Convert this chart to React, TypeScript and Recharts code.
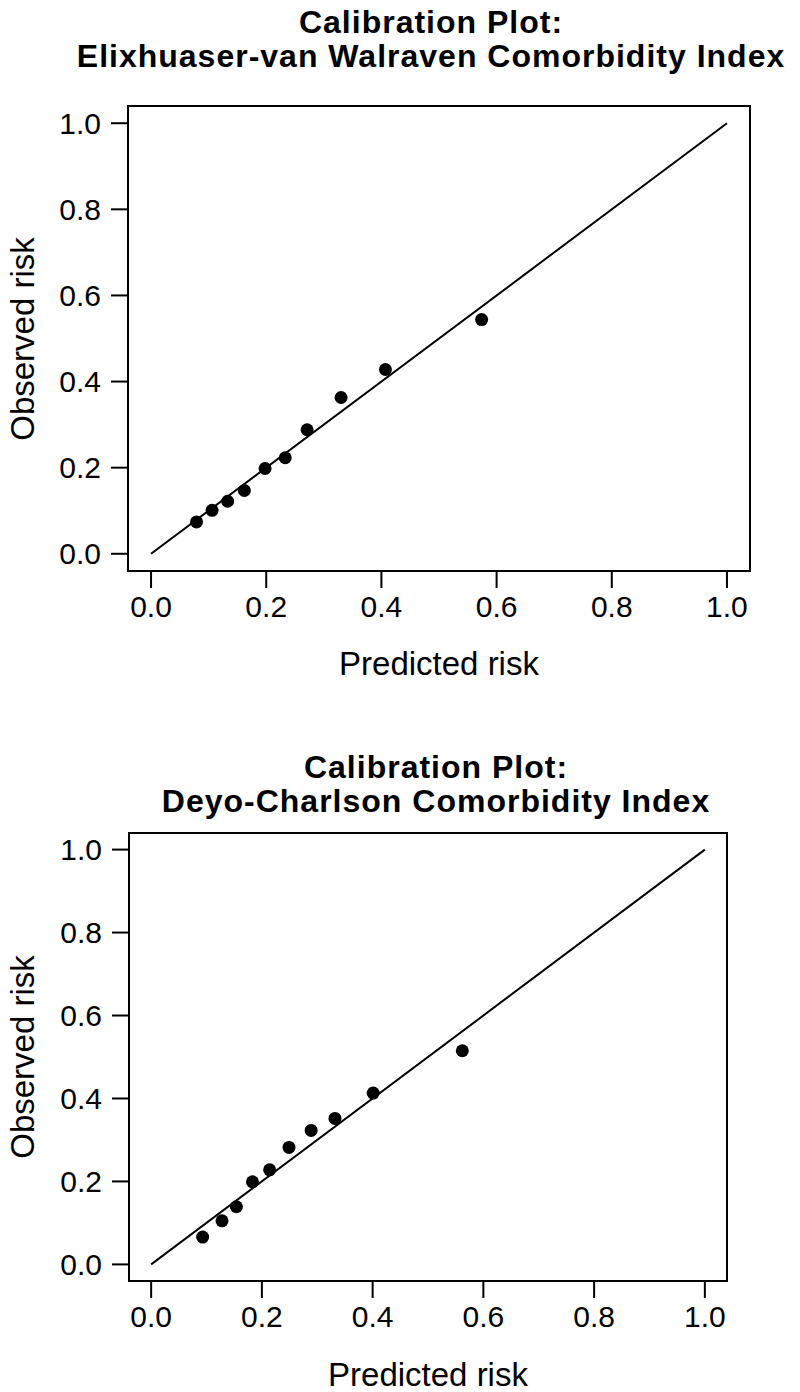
import { ReferenceArea, ReferenceLine, Scatter, ScatterChart, XAxis, YAxis } from 'recharts'

const axisTicks = [0, 0.2, 0.4, 0.6, 0.8, 1.0]

const elixPredicted = [0.079, 0.106, 0.133, 0.162, 0.198, 0.233, 0.271, 0.33, 0.407, 0.574]
const elixObserved = [0.074, 0.101, 0.122, 0.147, 0.198, 0.223, 0.288, 0.363, 0.428, 0.544]

const deyoPredicted = [0.093, 0.128, 0.154, 0.183, 0.214, 0.249, 0.289, 0.332, 0.401, 0.562]
const deyoObserved = [0.066, 0.105, 0.139, 0.199, 0.228, 0.282, 0.323, 0.352, 0.413, 0.515]

const font = "'Liberation Sans', Arial, Helvetica, sans-serif"

const toPoints = (xs: number[], ys: number[]) => xs.map((x, i) => ({ x, y: ys[i] }))

const Dot = (props: any) => <circle cx={props.cx} cy={props.cy} r={6.5} fill='#000' />

const text = (left: number, top: number, size: number, bold: boolean, rotate = false): React.CSSProperties => ({
  position: 'absolute',
  left,
  top,
  transform: `translate(-50%, -50%)${rotate ? ' rotate(-90deg)' : ''}`,
  whiteSpace: 'nowrap',
  lineHeight: 1,
  fontFamily: font,
  fontSize: size,
  fontWeight: bold ? 'bold' : 'normal',
  letterSpacing: bold ? 1 : 0,
  color: '#000',
})

type PanelProps = {
  top: number
  height: number
  plot: { left: number; right: number; top: number; bottom: number }
  titleX: number
  titleY: [number, number]
  labelY: number
  title: string
  xs: number[]
  ys: number[]
}

function Panel({ top, height, plot, titleX, titleY, labelY, title, xs, ys }: PanelProps) {
  const cx = (plot.left + plot.right) / 2
  const cy = (plot.top + plot.bottom) / 2
  const tickStyle = { fill: '#000', fontSize: 30, fontFamily: font }
  return (
    <div style={{ position: 'absolute', left: 0, top, width: 800, height }}>
      <ScatterChart
        width={800}
        height={height}
        margin={{ top: plot.top, left: 0, right: 800 - plot.right, bottom: 0 }}
      >
        <XAxis
          type='number'
          dataKey='x'
          domain={[-0.04, 1.04]}
          ticks={axisTicks}
          tickFormatter={(v) => v.toFixed(1)}
          axisLine={false}
          tickLine={{ stroke: '#000', strokeWidth: 2 }}
          tickSize={17}
          tickMargin={8}
          tick={tickStyle}
          height={height - plot.bottom}
          interval={0}
          allowDataOverflow
        />
        <YAxis
          type='number'
          dataKey='y'
          domain={[-0.04, 1.04]}
          ticks={axisTicks}
          tickFormatter={(v) => v.toFixed(1)}
          axisLine={false}
          tickLine={{ stroke: '#000', strokeWidth: 2 }}
          tickSize={17}
          tickMargin={10}
          tick={tickStyle}
          width={plot.left}
          interval={0}
          allowDataOverflow
        />
        <ReferenceArea x1={-0.04} x2={1.04} y1={-0.04} y2={1.04} fill='none' stroke='#000' strokeWidth={2} fillOpacity={0} />
        <ReferenceLine segment={[{ x: 0, y: 0 }, { x: 1, y: 1 }]} stroke='#000' strokeWidth={2} />
        <Scatter data={toPoints(xs, ys)} shape={Dot} isAnimationActive={false} />
      </ScatterChart>
      <div style={text(titleX, titleY[0], 32, true)}>Calibration Plot:</div>
      <div style={text(titleX, titleY[1], 32, true)}>{title}</div>
      <div style={text(cx, labelY, 33, false)}>Predicted risk</div>
      <div style={text(22, cy, 33, false, true)}>Observed risk</div>
    </div>
  )
}

export default function App() {
  return (
    <div style={{ position: 'absolute', left: 0, top: 0, width: 800, height: 1392, background: '#fff' }}>
      <Panel
        top={0}
        height={700}
        plot={{ left: 128, right: 750, top: 106, bottom: 571 }}
        titleX={431}
        titleY={[22, 56]}
        labelY={663}
        title='Elixhuaser-van Walraven Comorbidity Index'
        xs={elixPredicted}
        ys={elixObserved}
      />
      <Panel
        top={700}
        height={692}
        plot={{ left: 129, right: 727, top: 133, bottom: 581 }}
        titleX={436}
        titleY={[67, 101]}
        labelY={674}
        title='Deyo-Charlson Comorbidity Index'
        xs={deyoPredicted}
        ys={deyoObserved}
      />
    </div>
  )
}
